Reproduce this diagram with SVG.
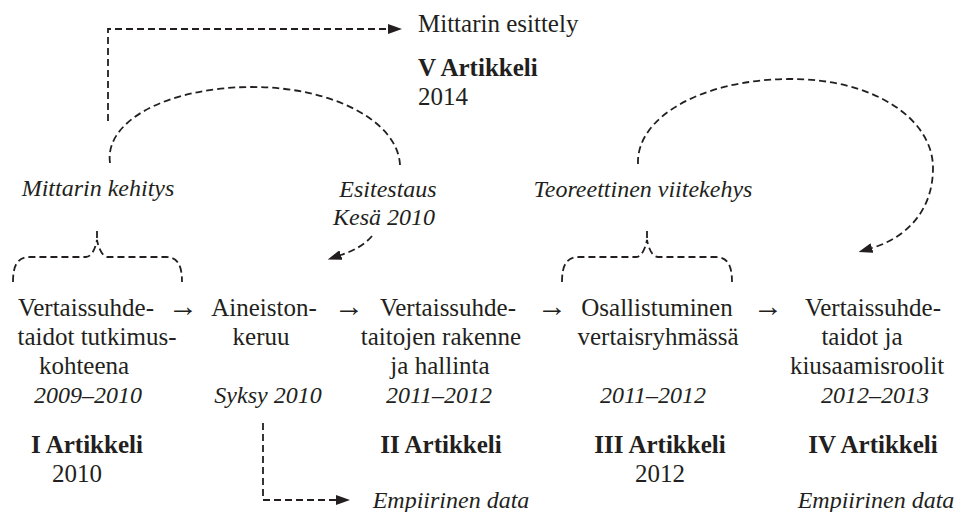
<svg xmlns="http://www.w3.org/2000/svg" width="958" height="512" viewBox="0 0 958 512">
  <style>
    text { font-family: "Liberation Serif", "Times New Roman", serif; font-size: 25px; fill: #231f20; }
    .c { text-anchor: middle; }
    .i { font-style: italic; font-size: 24px; }
    .b { font-weight: bold; }
    .arr { font-size: 30px; }
    .dash { fill: none; stroke: #231f20; stroke-width: 1.8; stroke-dasharray: 7 4; }
  </style>
  <defs>
    <marker id="head" markerUnits="userSpaceOnUse" viewBox="0 0 14 10" refX="0" refY="5" markerWidth="14" markerHeight="10" orient="auto">
      <path d="M0,0 L14,5 L0,10 z" fill="#231f20"/>
    </marker>
  </defs>

  <!-- dashed connectors -->
  <g id="connectors">
    <path class="dash" d="M108,121 V29 H388" marker-end="url(#head)"/>
    <path class="dash" d="M110,163 C104,120 170,87 252,87 C334,87 398,122 400,165"/>
    <path class="dash" d="M372,236 Q362,248 341,255" marker-end="url(#head)"/>
    <path class="dash" d="M638,164 C636,118 700,80 788,79 C872,78 933,118 933,168 C933,212 905,238 872,248" marker-end="url(#head)"/>
    <path class="dash" d="M13,282 C13,266 17,257 30,257 L86,257 C91,257 95,250 97,240 C99,250 103,257 108,257 L166,257 C178,257 182,266 182,282 M97,238 V228"/>
    <path class="dash" d="M562,282 C562,266 566,257 579,257 L636,257 C641,257 645,250 647,240 C649,250 653,257 658,257 L716,257 C728,257 732,266 732,282 M647,238 V228"/>
    <path class="dash" d="M263,423 V500 H336" marker-end="url(#head)"/>
  </g>

  <g id="article-5">
    <text x="418" y="32">Mittarin esittely</text>
    <text x="418" y="76" class="b">V Artikkeli</text>
    <text x="418" y="105">2014</text>
  </g>

  <g id="label-mittarin-kehitys">
    <text x="98" y="196" class="c i">Mittarin kehitys</text>
  </g>

  <g id="label-esitestaus">
    <text x="388" y="197" class="c i">Esitestaus</text>
    <text x="384" y="225" class="c i">Kesä 2010</text>
  </g>

  <g id="label-teoreettinen">
    <text x="643" y="197" class="c i">Teoreettinen viitekehys</text>
  </g>

  <g id="stage-1">
    <text x="86" y="316" class="c">Vertaissuhde-</text>
    <text x="97" y="345" class="c">taidot tutkimus-</text>
    <text x="84" y="374" class="c">kohteena</text>
    <text x="88" y="403" class="c i">2009–2010</text>
    <text x="87" y="453" class="c b">I Artikkeli</text>
    <text x="77" y="482" class="c">2010</text>
  </g>

  <g id="stage-2">
    <text x="264" y="316" class="c">Aineiston-</text>
    <text x="261" y="345" class="c">keruu</text>
    <text x="268" y="403" class="c i">Syksy 2010</text>
  </g>

  <g id="stage-3">
    <text x="448" y="316" class="c">Vertaissuhde-</text>
    <text x="441" y="345" class="c">taitojen rakenne</text>
    <text x="440" y="374" class="c">ja hallinta</text>
    <text x="439" y="403" class="c i">2011–2012</text>
    <text x="441" y="453" class="c b">II Artikkeli</text>
    <text x="451" y="508" class="c i">Empiirinen data</text>
  </g>

  <g id="stage-4">
    <text x="657" y="316" class="c">Osallistuminen</text>
    <text x="658" y="345" class="c">vertaisryhmässä</text>
    <text x="653" y="403" class="c i">2011–2012</text>
    <text x="660" y="453" class="c b">III Artikkeli</text>
    <text x="660" y="482" class="c">2012</text>
  </g>

  <g id="stage-5">
    <text x="873" y="316" class="c">Vertaissuhde-</text>
    <text x="862" y="345" class="c">taidot ja</text>
    <text x="867" y="374" class="c">kiusaamisroolit</text>
    <text x="875" y="403" class="c i">2012–2013</text>
    <text x="873" y="453" class="c b">IV Artikkeli</text>
    <text x="876" y="508" class="c i">Empiirinen data</text>
  </g>

  <g id="flow-arrows">
    <text x="183" y="316" class="c arr">→</text>
    <text x="349" y="316" class="c arr">→</text>
    <text x="552" y="316" class="c arr">→</text>
    <text x="768" y="316" class="c arr">→</text>
  </g>
</svg>
